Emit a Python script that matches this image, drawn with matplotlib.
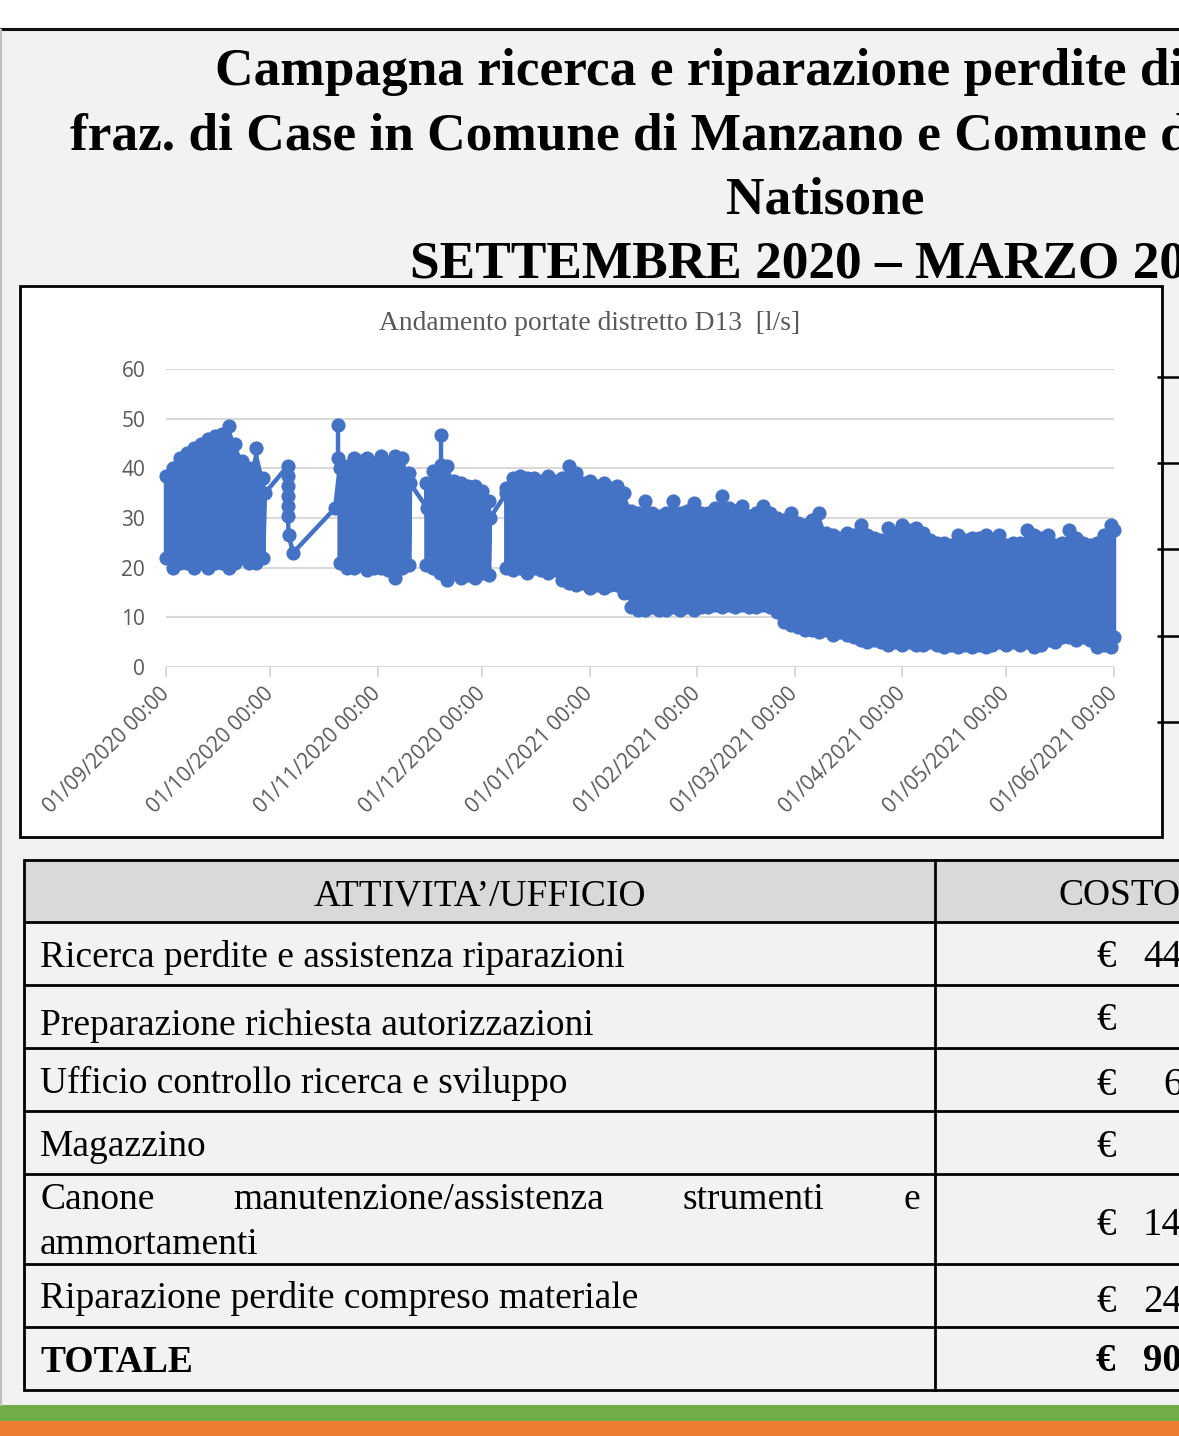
import matplotlib
matplotlib.use("Agg")
import matplotlib.pyplot as plt
from matplotlib.patches import Rectangle
from datetime import datetime, timedelta

# ---------------- data ----------------
title_lines = ["Campagna ricerca e riparazione perdite di",
               "fraz. di Case in Comune di Manzano e Comune di",
               "Natisone",
               "SETTEMBRE 2020 \u2013 MARZO 2021"]
chart_title = "Andamento portate distretto D13  [l/s]"
start_date = "2020-09-01"
month_ticks = ["2020-09-01", "2020-10-01", "2020-11-01", "2020-12-01", "2021-01-01",
               "2021-02-01", "2021-03-01", "2021-04-01", "2021-05-01", "2021-06-01"]
y_ticks = [0, 10, 20, 30, 40, 50, 60]

# days since 01/09/2020, upper and lower readings of the flow [l/s]
seg1_days = [0, 2, 4, 6, 8, 10, 12, 14, 16, 18, 20, 22, 24, 26, 28]
seg1_hi = [38.5, 40, 42, 43, 44, 45, 46, 46.5, 47, 48.5, 45, 41.5, 40, 44, 38]
seg1_lo = [22, 20, 21, 21, 20, 21, 20, 21, 21, 20, 21, 22, 21, 21, 22]

gap1_days = [28.5, 35.1, 35.1, 35.1, 35.1, 35.1, 35.1, 35.3, 36.6, 48.7]
gap1_vals = [35, 40.5, 38.5, 36.5, 34.5, 32.5, 30.5, 26.6, 23, 32]

seg2_days = [50, 52, 54, 56, 58, 60, 62, 64, 66, 68, 70]
seg2_hi = [40, 40.5, 42, 41.5, 42, 41, 42.5, 41, 42.5, 42, 39]
seg2_lo = [21, 20, 20, 20.5, 19.5, 20, 20, 19.5, 18, 20, 20.5]

gap2_days = [70.3, 75.2]
gap2_vals = [37, 32]

seg3_days = [75, 77, 79, 81, 83, 85, 87, 89, 91, 93]
seg3_hi = [37, 39.5, 39.5, 40.5, 37.5, 37, 36.5, 36.5, 35.5, 33.5]
seg3_lo = [20.5, 20, 19, 17.5, 19, 18, 18.5, 18, 19, 18.5]

gap3_days = [93.3, 98]
gap3_vals = [30, 35]

seg4_days = [98, 100, 102, 104, 106, 108, 110, 112, 114, 116,
             118, 120, 122, 124, 126, 128, 130, 132, 134, 136,
             138, 140, 142, 144, 146, 148, 150, 152, 154, 156,
             158, 160, 162, 164, 166, 168, 170, 172, 174, 176,
             178, 180, 182, 184, 186, 188, 190, 192, 194, 196,
             198, 200, 202, 204, 206, 208, 210, 212, 214, 216,
             218, 220, 222, 224, 226, 228, 230, 232, 234, 236,
             238, 240, 242, 244, 246, 248, 250, 252, 254, 256,
             258, 260, 262, 264, 266, 268, 270, 272, 273]
seg4_hi = [36, 38, 38.5, 38, 38, 37.5, 38.5, 37.5, 38, 40.5,
           39, 37, 37.5, 36.5, 37, 36, 36.5, 35, 31.5, 31,
           33.5, 31, 30.5, 31, 33.5, 31, 31.5, 33, 31, 31,
           32, 34.5, 32, 31.5, 32.5, 30.5, 31, 32.5, 31, 30,
           29.5, 31, 29, 28.5, 29.5, 31, 27, 26.5, 26, 27,
           26.5, 28.5, 26.5, 26, 25.5, 28, 27, 28.5, 27.5, 28,
           27, 25.5, 25, 25, 24.5, 26.5, 25.5, 26, 26, 26.5,
           25, 26.5, 24.5, 25, 25, 27.5, 26.5, 26, 26.5, 24.5,
           25, 27.5, 26, 25, 24.5, 25, 26.5, 28.5, 27.5]
seg4_lo = [20, 19.5, 20, 19, 20, 19.5, 19, 19.5, 17.5, 17,
           16.5, 17, 16, 16.5, 16, 16.5, 16.5, 15, 12, 11.5,
           11.5, 12, 11.5, 11.5, 12, 11.5, 12, 11.5, 12, 12,
           12.5, 12, 12.5, 12, 12.5, 12, 12, 12.5, 12, 11,
           9, 8.5, 8, 7.5, 7.5, 7, 7.5, 6.5, 7, 6.5,
           6, 5.5, 5, 5.5, 5, 4.5, 5, 4.5, 5, 4.5,
           4.5, 5, 4.5, 4, 4.5, 4, 4.5, 4, 4.5, 4,
           4.5, 5, 4.5, 5, 4.5, 5, 4, 4.5, 5.5, 5,
           6, 6, 5.5, 6, 5.5, 4, 4.5, 4, 6]

spike_days = [49.5, 79.2]
spike_top = [48.7, 46.7]
spike_base = [42, 40.7]

table_header = ["ATTIVITA\u2019/UFFICIO", "COSTO"]
activities = ["Ricerca perdite e assistenza riparazioni",
              "Preparazione richiesta autorizzazioni",
              "Ufficio controllo ricerca e sviluppo",
              "Magazzino",
              "Canone manutenzione/assistenza strumenti e ammortamenti",
              "Riparazione perdite compreso materiale",
              "TOTALE"]
costs = ["44", "", "6", "", "14", "24", "90"]

# ---------------- figure ----------------
W, H = 1179, 1436
BLUE = "#4472C4"
GREY_TXT = "#595959"
SERIF = ["Liberation Serif", "DejaVu Serif"]
SANS = ["Open Sans", "DejaVu Sans"]

fig = plt.figure(figsize=(W / 100, H / 100), dpi=100)
fig.patch.set_facecolor("white")

bg = fig.add_axes([0, 0, 1, 1], zorder=0)
bg.set_xlim(0, W)
bg.set_ylim(H, 0)
bg.axis("off")

# slide background and borders
bg.add_patch(Rectangle((0, 30), W, 1376, fc="#F2F2F2", ec="none"))
bg.plot([0, W], [29, 29], color="#111111", lw=2.2, solid_capstyle="butt")
bg.plot([1, 1], [30, 1405], color="#BFBFBF", lw=1.5)
bg.add_patch(Rectangle((0, 1405), W, 16, fc="#70AD47", ec="none"))
bg.add_patch(Rectangle((0, 1421), W, 16, fc="#ED7D31", ec="none"))

# title
title_x = [215, 70, 825, 410]
title_ha = ["left", "left", "center", "left"]
title_y = [85, 149, 213, 277]
for txt, x, ha, y in zip(title_lines, title_x, title_ha, title_y):
    bg.text(x, y, txt, ha=ha, va="baseline", fontsize=38.4, fontweight="bold",
            family=SERIF, color="black")

# chart frame
bg.add_patch(Rectangle((20, 286), 1142, 551, fc="white", ec="black", lw=2))
bg.text(590, 323, chart_title, ha="center", va="center", fontsize=19.8,
        family=SERIF, color=GREY_TXT)
for yy in [377, 463, 549, 636, 722]:
    bg.plot([1157, W], [yy, yy], color="black", lw=1.8, solid_capstyle="butt")

# table
row_edges = [860, 922, 985, 1048, 1111, 1174, 1264, 1327, 1390]
bg.add_patch(Rectangle((24, row_edges[0]), W - 24, row_edges[1] - row_edges[0],
                       fc="#D9D9D9", ec="none"))
for yy in row_edges:
    bg.plot([24, W], [yy, yy], color="black", lw=2, solid_capstyle="butt")
for xx in [24, 935]:
    bg.plot([xx, xx], [row_edges[0], row_edges[-1]], color="black", lw=2,
            solid_capstyle="projecting")

TFS = 27
bg.text(480, 905, table_header[0], ha="center", va="baseline", fontsize=TFS,
        family=SERIF)
bg.text(1058, 905, table_header[1], ha="left", va="baseline", fontsize=TFS,
        family=SERIF)

text_base = [967, 1035, 1093, 1156, None, 1308, 1372]
euro_base = [967, 1030, 1095, 1157, 1235, 1312, 1371]
renderer = fig.canvas.get_renderer()
for i, (act, cost) in enumerate(zip(activities, costs)):
    bold = (i == len(activities) - 1)
    fw = "bold" if bold else "normal"
    if text_base[i] is not None:
        bg.text(40, text_base[i], act, ha="left", va="baseline", fontsize=TFS,
                family=SERIF, fontweight=fw)
    else:
        words = act.split(" ")
        first, last = words[:4], words[4:]
        objs = [bg.text(0, 1209, w, ha="left", va="baseline", fontsize=TFS,
                        family=SERIF) for w in first]
        widths = [o.get_window_extent(renderer).width for o in objs]
        gap = (920 - 40 - sum(widths)) / (len(objs) - 1)
        x = 40
        for o, wd in zip(objs, widths):
            o.set_x(x)
            x += wd + gap
        bg.text(40, 1254, " ".join(last), ha="left", va="baseline", fontsize=TFS,
                family=SERIF)
    bg.text(1096, euro_base[i], "\u20ac", ha="left", va="baseline", fontsize=TFS + 1,
            family=SERIF, fontweight=fw)
    if cost:
        cx = 1163 if len(cost) == 1 else 1143
        bg.text(cx, euro_base[i], cost, ha="left", va="baseline", fontsize=TFS + 1,
                family=SERIF, fontweight=fw)

# ---------------- chart ----------------
base = datetime.strptime(start_date, "%Y-%m-%d")
def to_dates(days):
    return [base + timedelta(days=d) for d in days]

ax = fig.add_axes([166 / W, 1 - 667 / H, 948 / W, 298 / H], zorder=2)
ax.set_facecolor("none")

segments = [(seg1_days, seg1_hi, seg1_lo), (seg2_days, seg2_hi, seg2_lo),
            (seg3_days, seg3_hi, seg3_lo), (seg4_days, seg4_hi, seg4_lo)]
gaps = [(gap1_days, gap1_vals), (gap2_days, gap2_vals), (gap3_days, gap3_vals), ([], [])]

MS, LW = 10.2, 3.2
path_d, path_v = [], []
for (d, hi, lo), (gd, gv) in zip(segments, gaps):
    ax.fill_between(to_dates(d), lo, hi, color=BLUE, lw=0, zorder=3)
    for dd, h, l in zip(d, hi, lo):
        path_d += [dd, dd]
        path_v += [h, l]
    path_d += gd
    path_v += gv

ax.plot(to_dates(path_d), path_v, "-o", color=BLUE, lw=LW, ms=MS, mew=0, zorder=4,
        clip_on=False)
for sd, st, sb in zip(spike_days, spike_top, spike_base):
    ax.plot(to_dates([sd, sd]), [sb, st], "-o", color=BLUE, lw=LW, ms=MS, mew=0,
            zorder=4, clip_on=False)

ticks = [datetime.strptime(t, "%Y-%m-%d") for t in month_ticks]
ax.set_xlim(ticks[0], ticks[-1])
ax.set_ylim(0, 60)
ax.set_xticks(ticks)
ax.set_xticklabels([t.strftime("%d/%m/%Y %H:%M") for t in ticks], rotation=45,
                   ha="right", va="center", rotation_mode="anchor",
                   fontsize=15, family=SANS, color=GREY_TXT)
ax.set_yticks(y_ticks)
ax.set_yticklabels([str(v) for v in y_ticks], fontsize=15, family=SANS, color=GREY_TXT)
ax.tick_params(axis="x", length=7, width=1.5, color="#D9D9D9", pad=10)
ax.tick_params(axis="y", length=0, pad=15)
for s in ax.spines.values():
    s.set_visible(False)
for v in y_ticks:
    ax.axhline(v, color="#D9D9D9", lw=1.5, zorder=1)

fig.savefig("out.png", dpi=100)
